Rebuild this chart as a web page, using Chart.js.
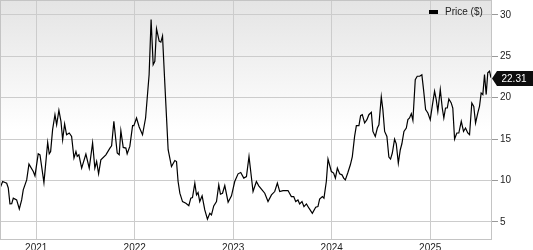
<!DOCTYPE html>
<html>
<head>
<meta charset="utf-8">
<script src="https://cdn.jsdelivr.net/npm/chart.js@4/dist/chart.umd.min.js"></script>
<style>
    html, body { margin: 0; padding: 0; background: #fff; overflow: hidden; }
    canvas { display: block; }
</style>
</head>
<body>
<canvas id="chart-price" width="533" height="250"></canvas>
<script>
// Serie de precios (fecha en años decimales)
const fechas = [
    2020.632, 2020.659, 2020.700, 2020.716, 2020.733, 2020.751, 2020.767, 2020.801, 2020.828, 2020.852,
    2020.868, 2020.903, 2020.926, 2020.970, 2020.987, 2021.020, 2021.038, 2021.078, 2021.116, 2021.132,
    2021.146, 2021.166, 2021.190, 2021.207, 2021.230, 2021.251, 2021.268, 2021.288, 2021.308, 2021.335,
    2021.359, 2021.383, 2021.403, 2021.416, 2021.433, 2021.461, 2021.504, 2021.538, 2021.572, 2021.595,
    2021.613, 2021.633, 2021.656, 2021.707, 2021.748, 2021.765, 2021.788, 2021.822, 2021.842, 2021.859,
    2021.883, 2021.910, 2021.923, 2021.950, 2021.978, 2021.991, 2022.018, 2022.045, 2022.079, 2022.110,
    2022.146, 2022.166, 2022.187, 2022.204, 2022.221, 2022.248, 2022.265, 2022.282, 2022.305, 2022.339,
    2022.373, 2022.407, 2022.424, 2022.440, 2022.458, 2022.485, 2022.519, 2022.549, 2022.569, 2022.586,
    2022.610, 2022.627, 2022.643, 2022.660, 2022.684, 2022.711, 2022.738, 2022.762, 2022.779, 2022.802,
    2022.830, 2022.853, 2022.870, 2022.891, 2022.914, 2022.948, 2022.982, 2023.015, 2023.049, 2023.076,
    2023.107, 2023.134, 2023.160, 2023.201, 2023.235, 2023.259, 2023.286, 2023.320, 2023.353, 2023.388,
    2023.421, 2023.448, 2023.472, 2023.505, 2023.556, 2023.590, 2023.614, 2023.634, 2023.657, 2023.674,
    2023.698, 2023.718, 2023.743, 2023.769, 2023.803, 2023.837, 2023.860, 2023.877, 2023.905, 2023.921,
    2023.945, 2023.962, 2023.996, 2024.019, 2024.037, 2024.057, 2024.080, 2024.104, 2024.121, 2024.138,
    2024.164, 2024.189, 2024.209, 2024.232, 2024.250, 2024.276, 2024.293, 2024.310, 2024.334, 2024.357,
    2024.377, 2024.402, 2024.418, 2024.442, 2024.463, 2024.479, 2024.503, 2024.519, 2024.537, 2024.560,
    2024.580, 2024.597, 2024.615, 2024.638, 2024.655, 2024.676, 2024.696, 2024.712, 2024.733, 2024.757,
    2024.773, 2024.790, 2024.808, 2024.824, 2024.848, 2024.868, 2024.892, 2024.915, 2024.932, 2024.953,
    2024.976, 2025.000, 2025.020, 2025.044, 2025.061, 2025.077, 2025.102, 2025.122, 2025.138, 2025.155,
    2025.173, 2025.189, 2025.213, 2025.229, 2025.247, 2025.270, 2025.290, 2025.315, 2025.338, 2025.358,
    2025.381, 2025.399, 2025.422, 2025.442, 2025.460, 2025.483, 2025.500, 2025.517, 2025.534, 2025.551,
    2025.568, 2025.584, 2025.602, 2025.615, 2025.627
];
const precios = [
    9.08, 9.88, 9.68, 9.10, 7.18, 7.20, 7.87, 7.66, 6.57, 7.66,
    8.87, 10.08, 11.98, 11.09, 10.57, 13.23, 13.10, 9.76, 14.60, 13.23,
    13.50, 16.14, 17.95, 16.74, 18.47, 17.14, 14.93, 16.83, 15.53, 15.74,
    15.33, 12.71, 13.51, 12.91, 13.11, 11.50, 13.20, 11.50, 14.53, 11.50,
    12.30, 10.81, 12.50, 13.10, 13.92, 14.20, 17.14, 13.32, 13.11, 16.02,
    14.00, 13.92, 13.23, 14.12, 16.62, 16.62, 17.55, 16.46, 15.53, 17.55,
    22.80, 29.45, 24.00, 24.40, 28.33, 26.83, 26.71, 27.44, 21.79, 13.72,
    11.69, 12.42, 12.30, 9.88, 8.47, 7.46, 7.26, 6.97, 7.87, 7.94,
    9.68, 8.27, 8.55, 7.46, 8.15, 6.45, 5.33, 6.05, 5.85, 6.94,
    7.46, 9.48, 8.35, 8.47, 9.40, 7.38, 8.15, 9.88, 10.81, 10.97,
    10.29, 10.48, 12.90, 8.67, 9.88, 9.36, 8.96, 8.47, 7.46, 8.27,
    8.67, 9.68, 8.67, 8.79, 8.79, 8.06, 8.06, 7.46, 7.66, 7.18,
    7.46, 6.85, 7.18, 6.66, 6.05, 6.78, 6.85, 7.75, 8.06, 7.87,
    9.88, 12.59, 11.09, 10.90, 10.29, 11.50, 10.81, 10.69, 10.29, 10.08,
    10.97, 11.90, 12.90, 15.33, 16.62, 16.62, 17.83, 17.95, 16.95, 17.35,
    17.95, 18.23, 15.93, 15.33, 16.34, 16.74, 20.10, 18.56, 15.93, 15.33,
    12.83, 12.59, 13.32, 15.01, 14.44, 12.10, 13.72, 14.44, 15.93, 16.34,
    17.35, 17.55, 18.08, 17.27, 22.19, 22.59, 22.59, 22.76, 20.98, 18.56,
    18.16, 17.35, 18.96, 20.78, 19.77, 18.35, 20.98, 18.76, 17.55, 18.76,
    18.76, 19.85, 19.37, 18.76, 15.01, 15.74, 15.74, 17.14, 15.93, 16.34,
    15.74, 15.53, 19.37, 18.96, 16.95, 18.16, 18.96, 20.58, 20.38, 22.80,
    20.38, 23.00, 23.20, 22.51, 22.31
];
const yTicks = [5, 10, 15, 20, 25, 30];
const xTicks = [2021, 2022, 2023, 2024, 2025];
const serieLabel = 'Price ($)';

const FONT = 'Liberation Sans, Arial, Helvetica, sans-serif';

// Fondo degradado, borde, leyenda y etiqueta del último precio
const decoPlugin = {
    id: 'deco',
    beforeDraw(chart) {
        const { ctx, chartArea: a } = chart;
        const g = ctx.createLinearGradient(0, a.top, 0, a.top + 130);
        g.addColorStop(0, '#e4e4e4');
        g.addColorStop(1, '#ffffff');
        ctx.save();
        ctx.fillStyle = g;
        ctx.fillRect(a.left, a.top, a.right - a.left, a.bottom - a.top);
        ctx.restore();
    },
    afterDraw(chart) {
        const { ctx, chartArea: a } = chart;
        ctx.save();
        ctx.strokeStyle = '#c4c4c4';
        ctx.lineWidth = 1;
        ctx.strokeRect(a.left + 0.5, a.top + 0.5, a.right - a.left - 1, a.bottom - a.top - 1);

        // leyenda
        ctx.fillStyle = '#000';
        ctx.fillRect(429, 10, 9, 4);
        ctx.font = '10px ' + FONT;
        ctx.fillStyle = '#222';
        ctx.textBaseline = 'middle';
        ctx.textAlign = 'left';
        ctx.fillText(chart.data.datasets[0].label, 445, 12.5);

        // etiqueta del último precio
        const ultimo = precios[precios.length - 1];
        const y = chart.scales.y.getPixelForValue(ultimo);
        const x0 = a.right;
        ctx.fillStyle = '#0d0d0d';
        ctx.beginPath();
        ctx.moveTo(x0, y);
        ctx.lineTo(x0 + 5, y - 7.5);
        ctx.lineTo(533, y - 7.5);
        ctx.lineTo(533, y + 7.5);
        ctx.lineTo(x0 + 5, y + 7.5);
        ctx.closePath();
        ctx.fill();
        ctx.fillStyle = '#fff';
        ctx.fillText(ultimo.toFixed(2), x0 + 9.5, y + 0.5);
        ctx.restore();
    }
};

new Chart(document.getElementById('chart-price').getContext('2d'), {
    type: 'line',
    data: {
        datasets: [{
            label: serieLabel,
            data: fechas.map((f, i) => ({ x: f, y: precios[i] })),
            borderColor: '#000',
            borderWidth: 1.2,
            pointRadius: 0,
            tension: 0,
            fill: false
        }]
    },
    options: {
        responsive: false,
        animation: false,
        events: [],
        layout: { padding: { top: 0, left: 0, right: 0, bottom: 0 } },
        plugins: { legend: { display: false }, tooltip: { enabled: false } },
        scales: {
            x: {
                type: 'linear',
                min: fechas[0],
                max: fechas[fechas.length - 1],
                grid: { color: '#cccccc', drawTicks: false },
                border: { display: false },
                ticks: {
                    font: { family: FONT, size: 10 },
                    color: '#222',
                    padding: 2,
                    maxRotation: 0,
                    callback: v => String(v)
                },
                afterBuildTicks: s => { s.ticks = xTicks.map(v => ({ value: v })); },
                afterFit: s => {
                    s.height = 10;
                    s.paddingLeft = 0;
                    s.paddingRight = 0;
                }
            },
            y: {
                position: 'right',
                min: 2.82,
                max: 31.8,
                grid: { color: '#cccccc', tickColor: '#999', tickLength: 6 },
                border: { display: false },
                ticks: {
                    font: { family: FONT, size: 10 },
                    color: '#222',
                    padding: 2
                },
                afterBuildTicks: s => { s.ticks = yTicks.map(v => ({ value: v })); },
                afterFit: s => {
                    s.width = 41;
                    s.paddingTop = 0;
                    s.paddingBottom = 0;
                }
            }
        }
    },
    plugins: [decoPlugin]
});
</script>
</body>
</html>
